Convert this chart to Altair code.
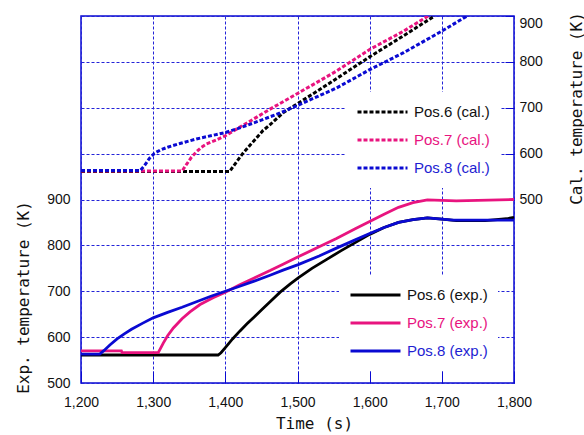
import altair as alt
import pandas as pd

# Measured temperatures (left axis, K) against time (s)
exp6_time = [1200, 1390, 1394, 1400, 1410, 1420, 1430, 1440, 1450, 1462, 1476, 1490, 1501, 1520, 1540, 1560,
             1580, 1600, 1620, 1640, 1660, 1680, 1700, 1720, 1760, 1790, 1800]
exp6_temp = [561, 561, 566, 577, 596, 613, 629, 644, 659, 677, 698, 716, 729, 750, 769, 788,
             806, 824, 839, 850, 856, 860, 857, 854, 854, 858, 861]

exp7_time = [1200, 1256, 1257, 1307, 1310, 1314, 1320, 1328, 1340, 1351, 1365, 1383, 1400, 1420, 1440, 1462,
             1480, 1501, 1530, 1554, 1580, 1600, 1620, 1640, 1660, 1680, 1720, 1800]
exp7_temp = [570, 570, 566, 566, 575, 587, 603, 620, 640, 655, 671, 686, 698, 714, 729, 745,
             759, 775, 797, 815, 836, 852, 868, 883, 893, 899, 897, 900]

exp8_time = [1200, 1226, 1232, 1240, 1250, 1260, 1270, 1285, 1300, 1320, 1340, 1360, 1380, 1400, 1420, 1440,
             1462, 1480, 1501, 1530, 1554, 1580, 1600, 1620, 1640, 1660, 1680, 1700, 1716, 1800]
exp8_temp = [563, 563, 571, 583, 596, 607, 617, 630, 642, 654, 665, 677, 689, 700, 711, 722,
             735, 746, 758, 777, 794, 812, 826, 839, 850, 856, 860, 857, 855, 855]

# Calculated temperatures (right axis, K)
cal6_time = [1200, 1406, 1410, 1416, 1425, 1435, 1443, 1452, 1462, 1480, 1501, 1536, 1570, 1600, 1647, 1690]
cal6_temp = [561, 561, 570, 583, 602, 620, 634, 650, 663, 689, 710, 745, 780, 811, 857, 900]

cal7_time = [1200, 1340, 1346, 1353, 1360, 1367, 1374, 1388, 1400, 1416, 1443, 1462, 1500, 1554, 1600, 1647, 1681]
cal7_temp = [562, 562, 576, 592, 604, 614, 621, 630, 639, 654, 679, 697, 731, 780, 827, 867, 900]

cal8_time = [1200, 1282, 1288, 1295, 1302, 1310, 1320, 1337, 1360, 1383, 1400, 1420, 1448, 1475, 1500, 1554,
             1600, 1647, 1700, 1735]
cal8_temp = [563, 563, 574, 590, 601, 608, 614, 622, 632, 640, 646, 656, 672, 688, 705, 743,
             783, 820, 867, 900]

EXP_NAMES = ["Pos.6 (exp.)", "Pos.7 (exp.)", "Pos.8 (exp.)"]
CAL_NAMES = ["Pos.6 (cal.)", "Pos.7 (cal.)", "Pos.8 (cal.)"]
LINE_COLORS = ["#000000", "#e8147f", "#0a0ad2"]

FRAME_BLUE = "#0a0ad2"
GRID_BLUE = "#2323d8"
TICK_FONT = "Liberation Sans"
TITLE_FONT = "DejaVu Sans Mono"
TIME_TICKS = [1200, 1300, 1400, 1500, 1600, 1700, 1800]


def series_frame(times, temps, name):
    return pd.DataFrame({"time": times, "temp": temps, "series": name})


exp_df = pd.concat([
    series_frame(exp6_time, exp6_temp, EXP_NAMES[0]),
    series_frame(exp7_time, exp7_temp, EXP_NAMES[1]),
    series_frame(exp8_time, exp8_temp, EXP_NAMES[2]),
])
cal_df = pd.concat([
    series_frame(cal6_time, cal6_temp, CAL_NAMES[0]),
    series_frame(cal7_time, cal7_temp, CAL_NAMES[1]),
    series_frame(cal8_time, cal8_temp, CAL_NAMES[2]),
])

# Legend labels take the colour of their series
label_color = {
    "expr": "indexof(datum.label, 'Pos.7') >= 0 ? '#e8147f' : "
            "(indexof(datum.label, 'Pos.8') >= 0 ? '#1e1ed2' : '#111111')"
}

time_scale = alt.Scale(domain=[1200, 1800], nice=False, zero=False)

# Main time axis: labels, title and vertical grid
x_axis = alt.Axis(
    orient="bottom",
    values=TIME_TICKS,
    format=",d",
    title="Time (s)",
    titleFont=TITLE_FONT,
    titleFontSize=16,
    titleFontWeight="normal",
    titleColor="#111111",
    titleX=233,
    titleY=40,
    titleAlign="center",
    titleBaseline="middle",
    labelFont=TICK_FONT,
    labelFontSize=14,
    labelColor="#111111",
    labelFlush=False,
    labelPadding=12,
    ticks=False,
    tickSize=0,
    domain=False,
    grid=True,
    gridColor=GRID_BLUE,
    gridDash=[3, 2],
    gridWidth=1,
)

# Second time axis drawn just inside the frame: inward tick marks only
x_tick_axis = alt.Axis(
    orient="bottom",
    values=TIME_TICKS,
    offset=-12,
    tickSize=12,
    tickColor=FRAME_BLUE,
    tickWidth=1,
    labels=False,
    domain=False,
    grid=False,
    title=None,
)

exp_axis = alt.Axis(
    orient="left",
    values=[500, 600, 700, 800, 900, 1000, 1100, 1200, 1300],
    labelExpr="datum.value <= 900 ? datum.label : ''",
    title="Exp. temperature (K)",
    titleFont=TITLE_FONT,
    titleFontSize=16,
    titleFontWeight="normal",
    titleColor="#111111",
    titleX=-58,
    titleY=281,
    titleAngle=270,
    titleAlign="center",
    titleBaseline="middle",
    labelFont=TICK_FONT,
    labelFontSize=14,
    labelColor="#111111",
    labelPadding=11,
    ticks=False,
    tickSize=0,
    domain=False,
    grid=True,
    gridColor=GRID_BLUE,
    gridDash=[3, 2],
    gridWidth=1,
)

# Right axis sits 9 px inside the frame so its ticks point inward
cal_axis = alt.Axis(
    orient="right",
    values=[500, 600, 700, 800, 900],
    offset=-9,
    tickSize=9,
    tickColor=FRAME_BLUE,
    tickWidth=1,
    title="Cal. temperature (K)",
    titleFont=TITLE_FONT,
    titleFontSize=16,
    titleFontWeight="normal",
    titleColor="#111111",
    titleX=71,
    titleY=92,
    titleAngle=270,
    titleAlign="center",
    titleBaseline="middle",
    labelFont=TICK_FONT,
    labelFontSize=14,
    labelColor="#111111",
    labelPadding=5,
    labelFlush=True,
    domain=False,
    grid=False,
)


def series_legend(x, y, dash=None):
    opts = dict(
        title=None,
        orient="none",
        legendX=x,
        legendY=y,
        direction="vertical",
        symbolType="stroke",
        symbolSize=2500,
        symbolStrokeWidth=3,
        clipHeight=20,
        rowPadding=8,
        labelOffset=5,
        padding=10,
        fillColor="white",
        labelFont=TICK_FONT,
        labelFontSize=15,
        labelColor=label_color,
        labelLimit=220,
    )
    if dash is not None:
        opts["symbolDash"] = dash
    return alt.Legend(**opts)


exp_layer = alt.Chart(exp_df).mark_line(strokeWidth=2.8, clip=True).encode(
    x=alt.X("time:Q", scale=time_scale, axis=x_axis),
    y=alt.Y("temp:Q", scale=alt.Scale(domain=[500, 1300], nice=False, zero=False), axis=exp_axis),
    color=alt.Color(
        "series:N",
        scale=alt.Scale(domain=EXP_NAMES, range=LINE_COLORS),
        legend=series_legend(258, 259),
    ),
)

cal_layer = alt.Chart(cal_df).mark_line(strokeWidth=3, strokeDash=[4, 2], clip=True).encode(
    x=alt.X("time:Q", scale=time_scale, axis=x_tick_axis),
    y=alt.Y("temp:Q", scale=alt.Scale(domain=[100, 900], nice=False, zero=False), axis=cal_axis),
    color=alt.Color(
        "series:N",
        scale=alt.Scale(domain=CAL_NAMES, range=LINE_COLORS),
        legend=series_legend(265, 76, dash=[4, 2]),
    ),
)

chart = (
    alt.layer(exp_layer, cal_layer)
    .resolve_scale(y="independent", color="independent")
    .resolve_axis(x="independent")
    .properties(
        width=433,
        height=367,
        autosize=alt.AutoSizeParams(type="none"),
        padding={"left": 81, "top": 16, "right": 70, "bottom": 52},
        background="white",
    )
    .configure_view(stroke=FRAME_BLUE, strokeWidth=1.5)
)

chart.save("out.html", embed_options={"renderer": "svg", "actions": False})
